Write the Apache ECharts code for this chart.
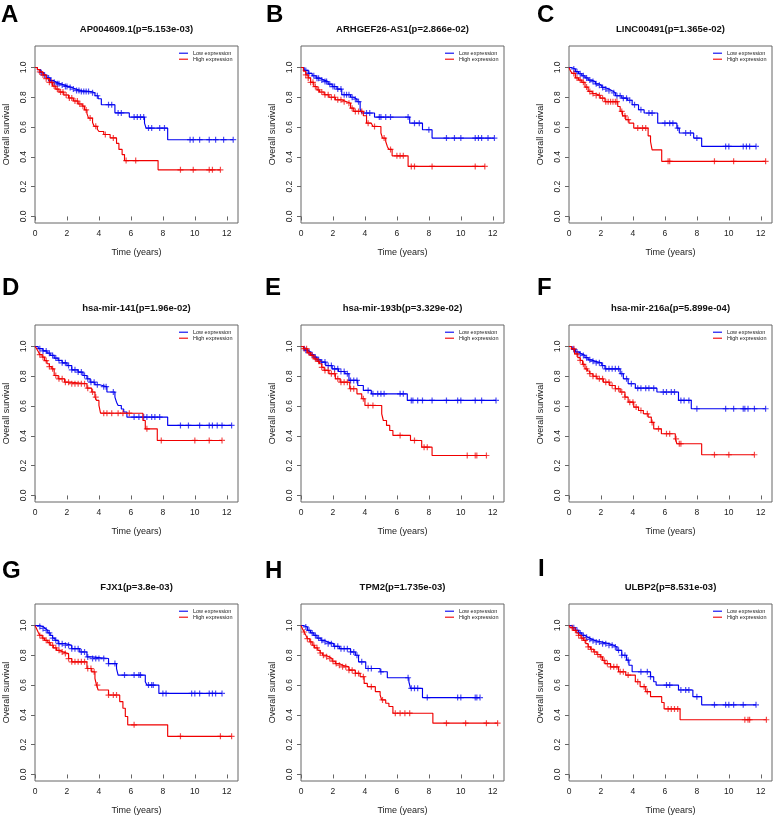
<!DOCTYPE html>
<html><head><meta charset="utf-8">
<script src="https://cdn.jsdelivr.net/npm/echarts@6/dist/echarts.min.js"></script>
<style>html,body{margin:0;padding:0;background:#fff}#c{width:773px;height:818px}</style>
</head><body><div id="c"></div>
<script>
// ---------- data ----------
const panelLetters = ['A','B','C','D','E','F','G','H','I'];
const panelTitles = [
  'AP004609.1(p=5.153e-03)','ARHGEF26-AS1(p=2.866e-02)','LINC00491(p=1.365e-02)',
  'hsa-mir-141(p=1.96e-02)','hsa-mir-193b(p=3.329e-02)','hsa-mir-216a(p=5.899e-04)',
  'FJX1(p=3.8e-03)','TPM2(p=1.735e-03)','ULBP2(p=8.531e-03)'];
const groupNames = ['Low expression','High expression'];
const xTicks = [0,2,4,6,8,10,12];
const yTicks = [0,0.2,0.4,0.6,0.8,1.0];

const A_low_t = [0,0.15,0.35,0.55,0.75,0.95,1.15,1.35,1.6,1.85,2.05,2.3,2.55,2.9,3.5,3.75,3.95,4.15,5.0,5.9,6.85,6.95,8.3,12.4];
const A_low_s = [1,0.985,0.965,0.948,0.93,0.912,0.9,0.89,0.882,0.873,0.866,0.855,0.845,0.838,0.83,0.81,0.79,0.75,0.695,0.667,0.626,0.593,0.515,0.515];
const A_low_c = [0.4,0.6,0.85,1.0,1.2,1.4,1.5,1.7,1.9,2.0,2.2,2.4,2.6,2.75,2.9,3.05,3.2,3.35,3.6,3.9,4.6,4.8,5.2,5.4,6.2,6.4,6.6,6.8,7.1,7.3,7.8,8.1,9.7,9.9,10.3,10.9,11.3,11.8,12.4];
const A_high_t = [0,0.15,0.3,0.5,0.7,0.9,1.1,1.3,1.5,1.8,2.1,2.4,2.7,2.95,3.1,3.25,3.35,3.6,3.7,3.9,4.0,4.3,4.7,5.1,5.25,5.45,5.6,7.7,11.6];
const A_high_s = [1,0.985,0.97,0.95,0.925,0.9,0.875,0.855,0.835,0.815,0.795,0.775,0.755,0.74,0.715,0.69,0.66,0.63,0.605,0.585,0.57,0.55,0.527,0.49,0.45,0.415,0.375,0.313,0.313];
const A_high_c = [0.3,0.5,0.7,0.9,1.05,1.2,1.4,1.6,1.75,1.95,2.15,2.3,2.5,2.65,2.8,3.0,3.2,3.45,3.8,4.4,4.9,5.7,6.3,9.1,9.9,10.9,11.1,11.6];

const B_low_t = [0,0.2,0.45,0.7,0.95,1.2,1.45,1.7,1.95,2.25,2.55,3.1,3.3,3.5,3.7,3.8,4.6,6.8,7.6,8.2,12.1];
const B_low_s = [1,0.98,0.96,0.944,0.928,0.915,0.905,0.888,0.872,0.855,0.817,0.8,0.787,0.77,0.72,0.694,0.667,0.626,0.582,0.526,0.526];
const B_low_c = [0.3,0.5,0.8,1.0,1.1,1.3,1.5,1.6,1.8,2.0,2.1,2.3,2.5,2.7,2.85,3.0,3.2,3.4,3.6,4.1,4.3,4.9,5.0,5.3,5.6,6.7,7.1,7.4,8.0,9.1,9.6,10.0,10.9,11.1,11.3,11.7,12.1];
const B_high_t = [0,0.15,0.3,0.45,0.6,0.8,1.0,1.15,1.45,1.75,2.15,2.55,2.85,3.1,3.3,3.9,4.1,4.4,4.5,5.0,5.1,5.3,5.4,5.5,5.7,6.7,11.5];
const B_high_s = [1,0.975,0.95,0.93,0.9,0.872,0.85,0.835,0.817,0.8,0.783,0.77,0.76,0.727,0.705,0.676,0.626,0.615,0.604,0.56,0.526,0.503,0.47,0.45,0.407,0.336,0.336];
const B_high_c = [0.3,0.45,0.6,0.75,0.9,1.1,1.3,1.5,1.7,1.9,2.1,2.3,2.5,2.7,3.0,3.2,3.4,3.6,3.8,4.2,4.6,5.2,5.6,6.0,6.2,6.4,6.9,7.1,8.2,10.9,11.5];

const C_low_t = [0,0.15,0.4,0.6,0.8,1.0,1.2,1.4,1.65,1.85,2.05,2.25,2.5,2.7,2.9,3.3,3.65,3.95,4.35,4.7,5.55,6.75,6.9,7.8,8.3,11.7];
const C_low_s = [1,0.99,0.972,0.958,0.944,0.93,0.915,0.905,0.89,0.88,0.866,0.855,0.843,0.83,0.81,0.794,0.78,0.75,0.716,0.694,0.626,0.593,0.56,0.526,0.47,0.47];
const C_low_c = [0.3,0.5,0.7,0.9,1.1,1.3,1.5,1.7,1.9,2.1,2.3,2.5,2.8,3.0,3.2,3.4,3.6,3.8,4.1,4.5,5.0,5.2,6.0,6.3,6.5,6.8,7.3,7.6,8.0,9.8,10.0,10.9,11.1,11.3,11.7];
const C_high_t = [0,0.1,0.2,0.4,0.6,0.8,1.0,1.2,1.45,1.65,1.95,2.25,3.05,3.2,3.35,3.55,3.75,4.05,4.95,5.1,5.2,5.8,12.3];
const C_high_s = [1,0.975,0.96,0.93,0.915,0.9,0.868,0.839,0.825,0.812,0.794,0.77,0.738,0.705,0.675,0.65,0.626,0.593,0.541,0.503,0.447,0.37,0.37];
const C_high_c = [0.3,0.5,0.7,0.9,1.1,1.3,1.5,1.7,1.9,2.1,2.3,2.45,2.6,2.75,2.9,3.0,3.3,3.5,3.7,4.3,4.6,4.8,6.2,6.3,9.1,10.3,12.3];

const D_low_t = [0,0.2,0.5,0.75,0.95,1.2,1.45,1.7,2.0,2.3,2.7,3.0,3.25,3.45,3.75,4.05,4.5,5.0,5.1,5.2,5.4,5.55,5.75,8.3,12.3];
const D_low_s = [1,0.985,0.97,0.955,0.94,0.922,0.906,0.89,0.872,0.843,0.828,0.805,0.783,0.76,0.743,0.73,0.694,0.66,0.626,0.604,0.58,0.56,0.526,0.47,0.47];
const D_low_c = [0.3,0.5,0.7,0.9,1.1,1.3,1.5,1.7,1.9,2.1,2.3,2.5,2.7,2.9,3.1,3.3,3.5,3.7,3.9,4.3,4.45,4.9,6.2,6.5,6.8,7.0,7.3,7.5,7.8,9.1,9.6,10.3,10.9,11.1,11.4,11.7,12.3];
const D_high_t = [0,0.1,0.2,0.3,0.45,0.6,0.75,0.9,1.05,1.2,1.45,1.85,2.3,3.25,3.55,3.75,3.85,4.0,4.1,6.75,6.9,7.65,11.7];
const D_high_s = [1,0.985,0.966,0.945,0.928,0.905,0.884,0.865,0.85,0.805,0.783,0.76,0.75,0.72,0.694,0.66,0.638,0.604,0.552,0.503,0.447,0.369,0.369];
const D_high_c = [0.3,0.5,0.7,0.9,1.1,1.3,1.5,1.7,1.9,2.1,2.3,2.5,2.7,2.9,3.1,3.3,3.6,3.8,4.3,4.5,4.8,5.2,5.5,5.9,7.0,7.9,10.0,10.9,11.7];

const E_low_t = [0,0.2,0.4,0.6,0.8,1.0,1.25,1.55,1.95,2.35,2.75,3.0,3.55,3.9,4.4,6.65,12.2];
const E_low_s = [1,0.975,0.962,0.945,0.928,0.91,0.895,0.872,0.85,0.832,0.817,0.772,0.738,0.705,0.682,0.638,0.638];
const E_low_c = [0.3,0.5,0.7,0.9,1.1,1.3,1.5,1.7,1.9,2.1,2.3,2.5,2.7,2.9,3.1,3.3,3.5,4.2,4.5,4.8,5.0,5.2,6.2,6.4,6.9,7.0,7.3,7.6,8.2,9.1,9.8,10.0,10.9,11.3,12.2];
const E_high_t = [0,0.15,0.4,0.6,0.8,1.0,1.15,1.3,1.45,1.75,2.15,2.45,3.05,3.5,3.8,4.0,5.05,5.15,5.35,5.55,5.75,6.85,7.55,8.2,11.6];
const E_high_s = [1,0.985,0.957,0.94,0.917,0.9,0.884,0.86,0.839,0.817,0.783,0.76,0.716,0.682,0.649,0.604,0.548,0.503,0.47,0.436,0.403,0.369,0.324,0.268,0.268];
const E_high_c = [0.2,0.35,0.5,0.7,0.9,1.1,1.3,1.5,1.7,1.9,2.1,2.3,2.5,2.7,2.9,3.1,3.3,3.9,4.2,4.5,6.2,7.1,7.7,7.9,10.4,10.9,11.0,11.6];

const F_low_t = [0,0.2,0.4,0.6,0.8,1.0,1.2,1.4,1.65,2.05,2.25,3.2,3.4,3.7,4.15,5.5,6.85,7.65,12.3];
const F_low_s = [1,0.98,0.963,0.95,0.94,0.925,0.91,0.9,0.89,0.872,0.85,0.817,0.783,0.75,0.72,0.694,0.638,0.582,0.582];
const F_low_c = [0.3,0.5,0.7,0.9,1.1,1.3,1.5,1.7,1.9,2.1,2.3,2.5,2.7,2.9,3.1,3.3,3.6,3.9,4.3,4.5,4.8,5.0,5.3,5.9,6.1,6.4,6.6,7.0,7.2,7.5,8.0,9.8,10.3,10.9,11.0,11.2,11.6,12.3];
const F_high_t = [0,0.15,0.35,0.55,0.7,0.85,1.0,1.15,1.3,1.5,1.75,2.15,2.55,2.9,3.2,3.5,3.7,4.05,4.35,4.65,4.95,5.15,5.3,5.78,6.65,6.75,8.3,11.6];
const F_high_s = [1,0.984,0.95,0.925,0.906,0.88,0.85,0.835,0.817,0.8,0.783,0.76,0.738,0.716,0.694,0.66,0.626,0.593,0.57,0.548,0.526,0.49,0.447,0.414,0.38,0.347,0.273,0.273];
const F_high_c = [0.3,0.5,0.7,0.9,1.1,1.3,1.5,1.7,1.9,2.1,2.3,2.5,2.7,2.9,3.1,3.3,3.5,3.8,4.0,4.2,4.5,4.9,5.2,5.6,6.1,6.3,6.7,6.9,7.0,9.1,10.0,11.6];

const G_low_t = [0,0.3,0.5,0.65,0.8,0.95,1.1,1.25,1.45,1.9,2.3,2.8,3.25,3.55,4.6,5.1,5.2,6.9,7.0,7.75,11.7];
const G_low_s = [1,0.993,0.98,0.967,0.95,0.933,0.915,0.9,0.878,0.867,0.844,0.822,0.789,0.778,0.744,0.711,0.667,0.622,0.6,0.544,0.544];
const G_low_c = [0.3,0.5,0.7,0.9,1.1,1.3,1.5,1.7,1.9,2.1,2.3,2.5,2.7,2.9,3.1,3.3,3.6,3.8,4.0,4.3,4.6,5.0,5.6,6.2,6.5,6.6,7.1,7.3,7.4,8.0,8.2,9.8,10.0,10.3,10.9,11.1,11.3,11.7];
const G_high_t = [0,0.1,0.2,0.3,0.45,0.6,0.8,0.95,1.15,1.35,1.55,1.75,2.1,2.3,3.25,3.55,3.75,3.85,3.95,4.6,5.3,5.5,5.65,5.8,8.3,12.3];
const G_high_s = [1,0.978,0.955,0.933,0.915,0.9,0.885,0.867,0.85,0.833,0.822,0.811,0.778,0.756,0.711,0.689,0.644,0.6,0.567,0.533,0.489,0.444,0.389,0.333,0.256,0.256];
const G_high_c = [0.3,0.5,0.7,0.9,1.1,1.3,1.5,1.7,1.9,2.1,2.3,2.5,2.7,2.9,3.1,3.3,3.5,3.7,3.9,4.6,4.9,5.1,6.2,9.1,11.6,12.3];

const H_low_t = [0,0.15,0.4,0.6,0.8,1.0,1.25,1.45,1.65,2.05,2.4,3.1,3.4,3.6,4.05,4.95,5.4,6.75,6.85,7.6,11.2];
const H_low_s = [1,0.99,0.967,0.95,0.933,0.915,0.9,0.89,0.878,0.86,0.844,0.822,0.8,0.756,0.711,0.689,0.649,0.622,0.578,0.516,0.516];
const H_low_c = [0.3,0.5,0.7,0.9,1.1,1.3,1.5,1.7,1.9,2.1,2.3,2.5,2.7,2.9,3.1,3.3,3.5,3.8,4.2,4.4,5.0,6.7,6.9,7.1,7.3,7.9,9.8,10.0,10.9,11.0,11.2];
const H_high_t = [0,0.1,0.2,0.3,0.4,0.55,0.7,0.85,1.05,1.2,1.35,1.55,1.75,1.95,2.15,2.4,2.6,3.0,3.4,3.7,3.95,4.15,4.65,4.95,5.05,5.3,5.5,5.75,8.25,12.3];
const H_high_s = [1,0.975,0.956,0.935,0.911,0.89,0.867,0.85,0.833,0.815,0.8,0.79,0.778,0.76,0.744,0.733,0.722,0.7,0.678,0.656,0.611,0.589,0.556,0.533,0.5,0.478,0.456,0.411,0.344,0.344];
const H_high_c = [0.2,0.4,0.6,0.8,1.0,1.2,1.4,1.6,1.8,2.0,2.2,2.4,2.6,2.8,3.0,3.2,3.4,3.6,3.9,4.4,5.1,5.9,6.2,6.5,6.8,9.1,10.3,11.6,12.3];

const I_low_t = [0,0.2,0.4,0.6,0.8,1.0,1.2,1.45,1.65,2.05,2.5,2.8,3.0,3.3,3.6,3.75,3.95,5.1,5.3,5.45,6.85,7.75,8.3,11.7];
const I_low_s = [1,0.985,0.967,0.95,0.933,0.92,0.907,0.898,0.889,0.878,0.867,0.856,0.833,0.8,0.767,0.733,0.689,0.656,0.622,0.6,0.567,0.522,0.467,0.467];
const I_low_c = [0.3,0.5,0.7,0.9,1.1,1.3,1.5,1.7,1.9,2.1,2.3,2.5,2.7,2.9,3.1,3.3,3.5,3.7,4.5,4.9,5.1,6.1,6.3,7.0,7.3,7.5,8.0,9.1,9.8,10.0,10.3,10.9,11.7];
const I_high_t = [0,0.1,0.25,0.45,0.6,0.75,0.9,1.05,1.2,1.35,1.55,1.75,1.95,2.1,2.25,2.6,3.1,3.55,4.15,4.45,4.8,5.1,5.8,5.95,6.95,12.35];
const I_high_s = [1,0.985,0.967,0.95,0.933,0.915,0.9,0.878,0.856,0.84,0.822,0.805,0.789,0.765,0.744,0.722,0.689,0.667,0.622,0.589,0.556,0.522,0.483,0.44,0.367,0.367];
const I_high_c = [0.2,0.4,0.6,0.8,1.0,1.2,1.4,1.6,1.8,2.0,2.2,2.4,2.6,2.8,3.0,3.2,3.4,3.7,4.3,4.7,4.9,6.2,6.4,6.6,6.8,11.0,11.2,11.3,12.35];

const curves = [
  [[A_low_t,A_low_s,A_low_c],[A_high_t,A_high_s,A_high_c]],
  [[B_low_t,B_low_s,B_low_c],[B_high_t,B_high_s,B_high_c]],
  [[C_low_t,C_low_s,C_low_c],[C_high_t,C_high_s,C_high_c]],
  [[D_low_t,D_low_s,D_low_c],[D_high_t,D_high_s,D_high_c]],
  [[E_low_t,E_low_s,E_low_c],[E_high_t,E_high_s,E_high_c]],
  [[F_low_t,F_low_s,F_low_c],[F_high_t,F_high_s,F_high_c]],
  [[G_low_t,G_low_s,G_low_c],[G_high_t,G_high_s,G_high_c]],
  [[H_low_t,H_low_s,H_low_c],[H_high_t,H_high_s,H_high_c]],
  [[I_low_t,I_low_s,I_low_c],[I_high_t,I_high_s,I_high_c]]
];

// ---------- layout / style ----------
const colLeft = [35, 301, 569];
const rowTop = [46, 325, 604];
const boxW = 203, boxH = 177;
const letterPos = [[1,15],[266,15],[537,15],[2,288],[265,288],[537,288],[2,571],[265,571],[538,569]];
const colors = ['#0000f0', '#f00000'];
const FONT = 'Liberation Sans, Arial, Helvetica, sans-serif';
const plusPath = 'path://M4,0H6V4H10V6H6V10H4V6H0V4H4Z';

function survAt(T, S, t) {
  let v = S[0];
  for (let i = 0; i < T.length; i++) { if (T[i] <= t) v = S[i]; else break; }
  return v;
}

const grids = [], xAxes = [], yAxes = [], series = [], legends = [], graphics = [];
for (let p = 0; p < 9; p++) {
  const left = colLeft[p % 3], top = rowTop[Math.floor(p / 3)];
  grids.push({left: left, top: top, width: boxW, height: boxH, show: true,
    borderColor: '#666', borderWidth: 1, backgroundColor: 'transparent', containLabel: false});
  xAxes.push({type: 'value', gridIndex: p, min: 0, max: 12.7,
    axisLine: {show: false}, splitLine: {show: false},
    axisTick: {show: true, length: 4, customValues: xTicks, lineStyle: {color: '#666'}},
    axisLabel: {customValues: xTicks, fontSize: 8.5, color: '#222', margin: 6, fontFamily: FONT},
    name: 'Time (years)', nameLocation: 'middle', nameGap: 25,
    nameTextStyle: {fontSize: 9, color: '#222', fontFamily: FONT}});
  yAxes.push({type: 'value', gridIndex: p, min: -0.044, max: 1.144,
    axisLine: {show: false}, splitLine: {show: false},
    axisTick: {show: true, length: 4, customValues: yTicks, lineStyle: {color: '#666'}},
    axisLabel: {customValues: yTicks, rotate: 90, fontSize: 8.5, color: '#222', margin: 7,
      fontFamily: FONT, formatter: v => v.toFixed(1)},
    name: 'Overall survival', nameLocation: 'middle', nameGap: 24,
    nameTextStyle: {fontSize: 9, color: '#222', fontFamily: FONT}});
  for (let g = 0; g < 2; g++) {
    const [T, S, C] = curves[p][g];
    series.push({type: 'line', name: groupNames[g], xAxisIndex: p, yAxisIndex: p,
      step: 'end', symbol: 'none', data: T.map((t, i) => [t, S[i]]),
      lineStyle: {color: colors[g], width: 1.15}, itemStyle: {color: colors[g]},
      silent: true, z: 2 + g});
    series.push({type: 'scatter', name: groupNames[g] + ' censored', xAxisIndex: p, yAxisIndex: p,
      symbol: plusPath, symbolSize: 6, data: C.map(t => [t, survAt(T, S, t)]),
      itemStyle: {color: colors[g], opacity: 0.7}, silent: true, z: 2 + g});
  }
  legends.push({left: left + boxW - 59, top: top + 4.2, orient: 'vertical', padding: 0,
    icon: 'rect', itemWidth: 9, itemHeight: 1.1, itemGap: 0, selectedMode: false,
    textStyle: {fontSize: 5.5, color: '#222', fontFamily: FONT, lineHeight: 6},
    data: groupNames});
  graphics.push({type: 'text', x: left + boxW / 2, y: top - 17,
    style: {text: panelTitles[p], align: 'center', verticalAlign: 'middle',
      font: 'bold 9.5px ' + FONT, fill: '#111'}});
  graphics.push({type: 'text', x: letterPos[p][0], y: letterPos[p][1],
    style: {text: panelLetters[p], align: 'left', verticalAlign: 'middle',
      font: 'bold 24px ' + FONT, fill: '#000'}});
}

const chart = echarts.init(document.getElementById('c'), null, {renderer: 'canvas'});
chart.setOption({
  animation: false,
  backgroundColor: '#fff',
  grid: grids, xAxis: xAxes, yAxis: yAxes, series: series, legend: legends,
  graphic: graphics
});
</script></body></html>
